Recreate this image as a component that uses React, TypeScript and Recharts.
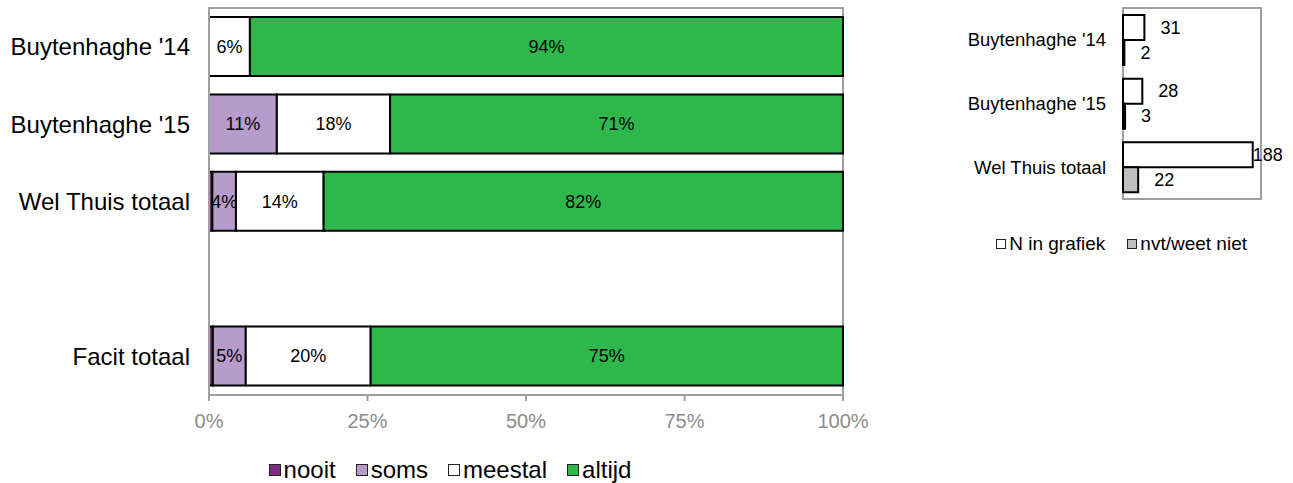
import React from 'react';
import {
  BarChart,
  Bar,
  XAxis,
  YAxis,
  ReferenceArea,
  LabelList
} from 'recharts';

// main chart: share per answer, in percent
const categories = ["Buytenhaghe '14", "Buytenhaghe '15", 'Wel Thuis totaal', ' ', 'Facit totaal'];
const nooit = [0, 0, 0.53, null, 0.6];
const soms = [0, 10.7, 3.72, null, 5.2];
const meestal = [6.45, 17.86, 13.83, null, 19.7];
const altijd = [93.55, 71.43, 81.91, null, 74.5];
const percentTicks = [0, 25, 50, 75, 100];

// side chart: counts
const sideCategories = ["Buytenhaghe '14", "Buytenhaghe '15", 'Wel Thuis totaal'];
const nInGrafiek = [31, 28, 188];
const nvtWeetNiet = [2, 3, 22];

const FONT = '"Liberation Sans", Arial, sans-serif';
const GRID = '#a0a0a0';

const series = [
  { key: 'nooit', name: 'nooit', color: '#7F2A84', labels: false },
  { key: 'soms', name: 'soms', color: '#B79CCB', labels: true },
  { key: 'meestal', name: 'meestal', color: '#FFFFFF', labels: true },
  { key: 'altijd', name: 'altijd', color: '#2EB84C', labels: true }
];

const sideSeries = [
  { key: 'n', name: 'N in grafiek', color: '#FFFFFF' },
  { key: 'nvt', name: 'nvt/weet niet', color: '#BFBFBF' }
];

const mainData = categories.map((name, i) => ({
  name,
  nooit: nooit[i],
  soms: soms[i],
  meestal: meestal[i],
  altijd: altijd[i]
}));

const sideData = sideCategories.map((name, i) => ({
  name,
  n: nInGrafiek[i],
  nvt: nvtWeetNiet[i]
}));

const SIDE_W = 363;
const SIDE_MARGIN = { top: 8, right: 32, bottom: 16, left: 0 };

const pctLabel = (v: any) => (typeof v === 'number' && v >= 1 ? `${Math.round(v)}%` : '');

const CountLabel = (props: any) => {
  const box = props.viewBox || props;
  const { x, y, width, height } = box;
  const end = x + width;
  const plotRight = SIDE_W - SIDE_MARGIN.right;
  // Excel pulls the label back onto the bar end when it would leave the plot
  const tx = end + 16 + 20 > plotRight ? end : end + 16;
  return (
    <text
      x={tx}
      y={y + height / 2}
      dominantBaseline="central"
      fontSize={18}
      fontFamily={FONT}
      fill="#000"
    >
      {props.value}
    </text>
  );
};

const LegendSwatch = ({ color, size }: { color: string; size: number }) => (
  <span
    style={{
      display: 'inline-block',
      width: size,
      height: size,
      background: color,
      border: '1.5px solid #222',
      marginRight: 3
    }}
  />
);

export default function App() {
  return (
    <div style={{ position: 'absolute', left: 0, top: 0, width: 1293, height: 483, background: '#fff', fontFamily: FONT }}>
      <div style={{ position: 'absolute', left: 0, top: 0 }}>
        <BarChart
          width={880}
          height={440}
          data={mainData}
          layout="vertical"
          barSize={59}
          margin={{ top: 8, right: 37, bottom: 0, left: 0 }}
        >
          <ReferenceArea x1={0} x2={100} fill="none" stroke={GRID} strokeWidth={2} />
          <XAxis
            type="number"
            domain={[0, 100]}
            ticks={percentTicks}
            tickFormatter={(v) => `${v}%`}
            height={45}
            axisLine={{ stroke: GRID, strokeWidth: 2 }}
            tickLine={{ stroke: GRID, strokeWidth: 2 }}
            tickSize={6}
            tickMargin={13}
            tick={{ fill: '#8c8c8c', fontSize: 20, fontFamily: FONT }}
          />
          <YAxis
            type="category"
            dataKey="name"
            width={209}
            axisLine={{ stroke: GRID, strokeWidth: 2 }}
            tickLine={false}
            tickSize={0}
            tickMargin={19}
            tick={{ fill: '#000', fontSize: 24, fontFamily: FONT }}
          />
          {series.map((s) => (
            <Bar
              key={s.key}
              dataKey={s.key}
              name={s.name}
              stackId="a"
              fill={s.color}
              stroke="#000"
              strokeWidth={2}
              isAnimationActive={false}
            >
              {s.labels && (
                <LabelList
                  dataKey={s.key}
                  position="center"
                  formatter={pctLabel}
                  fill="#000"
                  fontSize={18}
                  fontFamily={FONT}
                />
              )}
            </Bar>
          ))}
        </BarChart>
      </div>

      <div
        style={{
          position: 'absolute',
          top: 456,
          left: 0,
          width: 900,
          display: 'flex',
          justifyContent: 'center',
          alignItems: 'center',
          gap: 20,
          fontSize: 24,
          color: '#000'
        }}
      >
        {series.map((s) => (
          <span key={s.key} style={{ display: 'flex', alignItems: 'center' }}>
            <LegendSwatch color={s.color} size={10} />
            {s.name}
          </span>
        ))}
      </div>

      <div style={{ position: 'absolute', left: 930, top: 0 }}>
        <BarChart
          width={SIDE_W}
          height={215}
          data={sideData}
          layout="vertical"
          barSize={25}
          barGap={0}
          margin={SIDE_MARGIN}
        >
          <ReferenceArea x1={0} x2={200} fill="none" stroke={GRID} strokeWidth={2} />
          <XAxis type="number" domain={[0, 200]} hide />
          <YAxis
            type="category"
            dataKey="name"
            width={193}
            axisLine={false}
            tickLine={false}
            tickSize={0}
            tickMargin={17}
            tick={{ fill: '#000', fontSize: 18.5, fontFamily: FONT }}
          />
          {sideSeries.map((s) => (
            <Bar
              key={s.key}
              dataKey={s.key}
              name={s.name}
              fill={s.color}
              stroke="#000"
              strokeWidth={2}
              isAnimationActive={false}
            >
              <LabelList dataKey={s.key} content={CountLabel} />
            </Bar>
          ))}
        </BarChart>
      </div>

      <div
        style={{
          position: 'absolute',
          top: 233,
          right: 46,
          display: 'flex',
          alignItems: 'center',
          gap: 22,
          fontSize: 19,
          color: '#000'
        }}
      >
        {sideSeries.map((s) => (
          <span key={s.key} style={{ display: 'flex', alignItems: 'center' }}>
            <LegendSwatch color={s.color} size={8} />
            {s.name}
          </span>
        ))}
      </div>
    </div>
  );
}
